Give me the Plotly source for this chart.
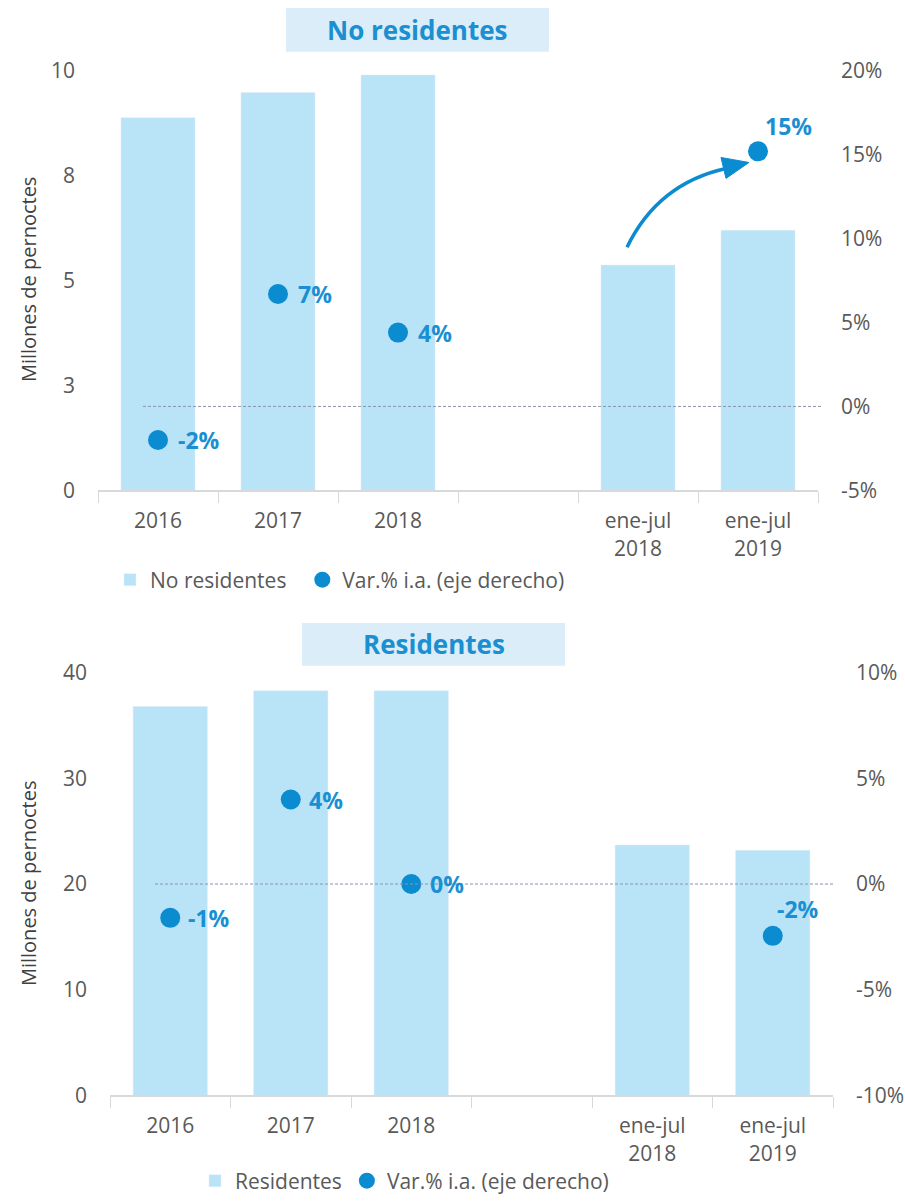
import plotly.graph_objects as go

# ---------------- data ----------------
categories = ["2016", "2017", "2018", " ", "ene-jul<br>2018", "ene-jul<br>2019"]

no_res_values = [8.88, 9.48, 9.90, None, 5.37, 6.20]
no_res_var = [-2.0, 6.7, 4.4, None, None, 15.2]
no_res_var_labels = ["-2%", "7%", "4%", "", "", "15%"]

res_values = [36.8, 38.3, 38.3, None, 23.7, 23.2]
res_var = [-1.6, 4.0, 0.0, None, None, -2.45]
res_var_labels = ["-1%", "4%", "0%", "", "", "-2%"]

top_left_tickvals = [0, 2.5, 5, 7.5, 10]
top_left_ticktext = ["0", "3", "5", "8", "10"]
top_right_tickvals = [-5, 0, 5, 10, 15, 20]
top_right_ticktext = ["-5%", "0%", "5%", "10%", "15%", "20%"]
bottom_left_tickvals = [0, 10, 20, 30, 40]
bottom_left_ticktext = ["0", "10", "20", "30", "40"]
bottom_right_tickvals = [-10, -5, 0, 5, 10]
bottom_right_ticktext = ["-10%", "-5%", "0%", "5%", "10%"]

# ---------------- style ----------------
FONT = "Open Sans"
BAR = "#b9e3f7"
DOT = "#0b8bd0"
LABEL = "#1a8fd2"
TICK = "#595959"
BOX = "#dbedf8"
AXLINE = "#d9d9d9"
ZERO = "#8f93ab"

W, H = 905, 1202

# label offsets (pixels) per point: (xshift, yshift)
top_label_shift = [(18, 0), (18, 0), (18, 0), (0, 0), (0, 0), (5, 25)]
bottom_label_shift = [(16, 0), (16, 0), (17, 0), (0, 0), (0, 0), (2, 27)]


def px(x):
    return x / W


def py(y):
    return 1 - y / H


fig = go.Figure()

# top panel
fig.add_trace(go.Bar(x=categories, y=no_res_values, name="No residentes\u00a0\u00a0",
                     marker=dict(color=BAR), xaxis="x", yaxis="y",
                     legend="legend"))
fig.add_trace(go.Scatter(x=categories, y=no_res_var, name="Var.% i.a. (eje derecho)",
                         mode="markers", marker=dict(color=DOT, size=20),
                         xaxis="x", yaxis="y2", legend="legend"))

# bottom panel
fig.add_trace(go.Bar(x=categories, y=res_values, name="Residentes",
                     marker=dict(color=BAR), xaxis="x2", yaxis="y3",
                     legend="legend2"))
fig.add_trace(go.Scatter(x=categories, y=res_var, name="Var.% i.a. (eje derecho)",
                         mode="markers", marker=dict(color=DOT, size=20),
                         xaxis="x2", yaxis="y4", legend="legend2"))

xcommon = dict(type="category", categoryorder="array", categoryarray=categories,
               range=[-0.5, 5.5], showline=True, linecolor=AXLINE, linewidth=1.5,
               ticks="outside", tickson="boundaries", ticklen=11, tickcolor=AXLINE,
               tickfont=dict(family=FONT, size=21, color=TICK), showgrid=False,
               zeroline=False, automargin=False, fixedrange=True,
               ticklabelstandoff=11)
ycommon = dict(showgrid=False, zeroline=False, showline=False, ticks="",
               tickfont=dict(family=FONT, size=21, color=TICK), automargin=False,
               ticklabelstandoff=22, fixedrange=True)

legend_font = dict(family=FONT, size=21, color=TICK)

fig.update_layout(
    width=W, height=H,
    margin=dict(l=0, r=0, t=0, b=0),
    paper_bgcolor="white", plot_bgcolor="white",
    font=dict(family=FONT, color=TICK),
    bargap=0.383,
    showlegend=True,
    xaxis=dict(domain=[px(98), px(818)], anchor="y", **xcommon),
    yaxis=dict(domain=[py(492), py(71)], range=[0, 10], tickvals=top_left_tickvals,
               ticktext=top_left_ticktext, anchor="x", **ycommon),
    yaxis2=dict(overlaying="y", side="right", range=[-5, 20], tickvals=top_right_tickvals,
                ticktext=top_right_ticktext, anchor="x", **ycommon),
    xaxis2=dict(domain=[px(110), px(833)], anchor="y3", **xcommon),
    yaxis3=dict(domain=[py(1099), py(675)], range=[0, 40], tickvals=bottom_left_tickvals,
                ticktext=bottom_left_ticktext, anchor="x2", **ycommon),
    yaxis4=dict(overlaying="y3", side="right", range=[-10, 10],
                tickvals=bottom_right_tickvals, ticktext=bottom_right_ticktext,
                anchor="x2", **ycommon),
    legend=dict(orientation="h", x=px(110), y=py(582), xanchor="left", yanchor="middle",
                font=legend_font, bgcolor="rgba(0,0,0,0)",
                itemclick=False, itemdoubleclick=False),
    legend2=dict(orientation="h", x=px(195), y=py(1185), xanchor="left", yanchor="middle",
                 font=legend_font, bgcolor="rgba(0,0,0,0)",
                 itemclick=False, itemdoubleclick=False),
)

shapes = []
annotations = []

# title boxes
for (x0, y0, x1, y1, title) in [(286, 8, 549, 52, "No residentes"),
                                (302, 625, 565, 668, "Residentes")]:
    shapes.append(dict(type="rect", xref="paper", yref="paper",
                       x0=px(x0), x1=px(x1), y0=py(y1), y1=py(y0),
                       fillcolor=BOX, line=dict(width=0), layer="below"))
    annotations.append(dict(xref="paper", yref="paper", x=px((x0 + x1) / 2),
                            y=py((y0 + y1) / 2), text="<b>" + title + "</b>",
                            showarrow=False, xanchor="center", yanchor="middle",
                            font=dict(family=FONT, size=26, color=LABEL)))

# zero reference lines (right axes)
shapes.append(dict(type="line", xref="paper", yref="y2", x0=px(143), x1=px(822),
                   y0=0, y1=0, line=dict(color=ZERO, width=1, dash="3px,2px"),
                   layer="above"))
shapes.append(dict(type="line", xref="paper", yref="y4", x0=px(155), x1=px(835),
                   y0=0, y1=0, line=dict(color=ZERO, width=1, dash="3px,2px"),
                   layer="above"))

# data labels for the % variation points (x given as category index)
for vals, labels, shifts, xr, yr in [
        (no_res_var, no_res_var_labels, top_label_shift, "x", "y2"),
        (res_var, res_var_labels, bottom_label_shift, "x2", "y4")]:
    for i, (v, t, (dx, dy)) in enumerate(zip(vals, labels, shifts)):
        if v is None or not t:
            continue
        annotations.append(dict(xref=xr, yref=yr, x=i, y=v, text="<b>" + t + "</b>",
                                showarrow=False, xanchor="left", yanchor="middle",
                                xshift=dx, yshift=dy,
                                font=dict(family=FONT, size=23, color=LABEL)))


# curved arrow (top panel)
def P(x, y):
    return f"{px(x):.5f},{py(y):.5f}"


shapes.append(dict(type="path", xref="paper", yref="paper",
                   path=f"M{P(627, 248)} Q{P(658, 184)} {P(726, 169)}",
                   line=dict(color=DOT, width=3.5), layer="above"))
shapes.append(dict(type="path", xref="paper", yref="paper",
                   path=f"M{P(749, 163)} L{P(721, 158)} L{P(726, 179)} Z",
                   fillcolor=DOT, line=dict(color=DOT, width=1), layer="above"))

# y-axis titles
for yc in [281, 887]:
    annotations.append(dict(xref="paper", yref="paper", x=px(28), y=py(yc),
                            text="Millones de pernoctes", textangle=-90, showarrow=False,
                            xanchor="center", yanchor="middle",
                            font=dict(family=FONT, size=20, color="#404040")))

fig.update_layout(shapes=shapes, annotations=annotations)

# remove the default page margin / scrollbars so the figure fills the window exactly
fig.write_html(
    "out.html",
    config={"displayModeBar": False},
    post_script=("document.body.style.margin='0px';"
                 "document.body.style.overflow='hidden';"
                 "document.documentElement.style.overflow='hidden';"),
)
